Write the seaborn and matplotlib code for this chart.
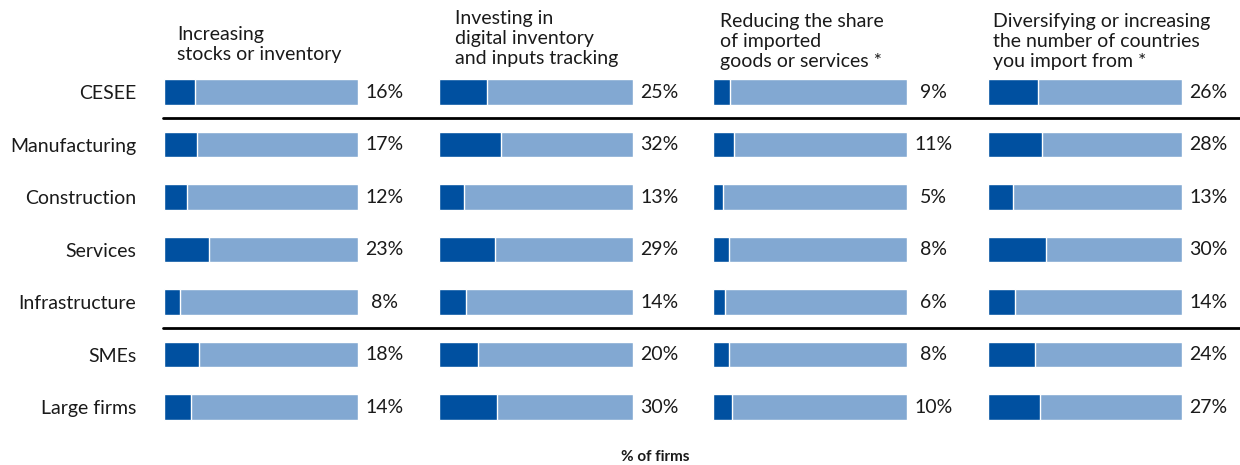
import matplotlib
matplotlib.use("Agg")
import matplotlib.pyplot as plt
from matplotlib.lines import Line2D
import matplotlib.transforms as mtransforms
import seaborn as sns
import pandas as pd

sns.set_theme(style="white")
plt.rcParams["font.family"] = ["Lato", "DejaVu Sans"]

categories = ["CESEE", "Manufacturing", "Construction", "Services",
              "Infrastructure", "SMEs", "Large firms"]
titles = [
    "Increasing\nstocks or inventory",
    "Investing in\ndigital inventory\nand inputs tracking",
    "Reducing the share\nof imported\ngoods or services *",
    "Diversifying or increasing\nthe number of countries\nyou import from *",
]
stocks = [16, 17, 12, 23, 8, 18, 14]
digital = [25, 32, 13, 29, 14, 20, 30]
reduce_imports = [9, 11, 5, 8, 6, 8, 10]
diversify = [26, 28, 13, 30, 14, 24, 27]
series = [stocks, digital, reduce_imports, diversify]

DARK = "#0050A0"
LIGHT = "#82A8D2"
TEXT = "#1a1a1a"
FS = 14

W, H = 1240, 465
fig = plt.figure(figsize=(W / 100, H / 100), dpi=100)

panel_left = [164, 439, 713, 988]
panel_width = 194
ax_top, ax_bottom = 65.75, 433.25
title_dx = [13, 16, 7, 5]
title_bottom = [63, 67, 70, 70]

axes = []
for i, vals in enumerate(series):
    ax = fig.add_axes([panel_left[i] / W, 1 - ax_bottom / H,
                       panel_width / W, (ax_bottom - ax_top) / H])
    df = pd.DataFrame({"category": categories, "value": vals,
                       "total": [100] * len(vals)})
    sns.barplot(data=df, x="total", y="category", orient="h", color=LIGHT,
                width=0.48, edgecolor="white", linewidth=1.0, saturation=1,
                ax=ax)
    sns.barplot(data=df, x="value", y="category", orient="h", color=DARK,
                width=0.48, edgecolor="white", linewidth=1.0, saturation=1,
                ax=ax)
    ax.set_xlim(0, 100)
    ax.set_ylim(len(categories) - 0.5, -0.5)
    ax.set_xlabel("")
    ax.set_ylabel("")
    ax.set_xticks([])
    for s in ax.spines.values():
        s.set_visible(False)
    if i == 0:
        ax.tick_params(axis="y", length=0, pad=20, labelsize=FS)
        for lab in ax.get_yticklabels():
            lab.set_color(TEXT)
    else:
        ax.set_yticks([])
    for j, v in enumerate(vals):
        ax.text(113.5, j, f"{v}%", ha="center", va="center",
                fontsize=FS, color=TEXT)
    fig.text((panel_left[i] + title_dx[i]) / W, 1 - title_bottom[i] / H,
             titles[i], ha="left", va="bottom", fontsize=FS,
             color=TEXT, linespacing=1.2)
    axes.append(ax)

# group separators across all panels
trans = mtransforms.blended_transform_factory(fig.transFigure, axes[0].transData)
for yy in [0.5, 4.5]:
    fig.add_artist(Line2D([163 / W, 1.0], [yy, yy], transform=trans,
                          color="black", linewidth=2.0))

fig.text(655 / W, 1 - 457 / H, "% of firms", ha="center", va="center",
         fontsize=11, fontweight="bold", color=TEXT)

fig.savefig("out.png", dpi=100)
